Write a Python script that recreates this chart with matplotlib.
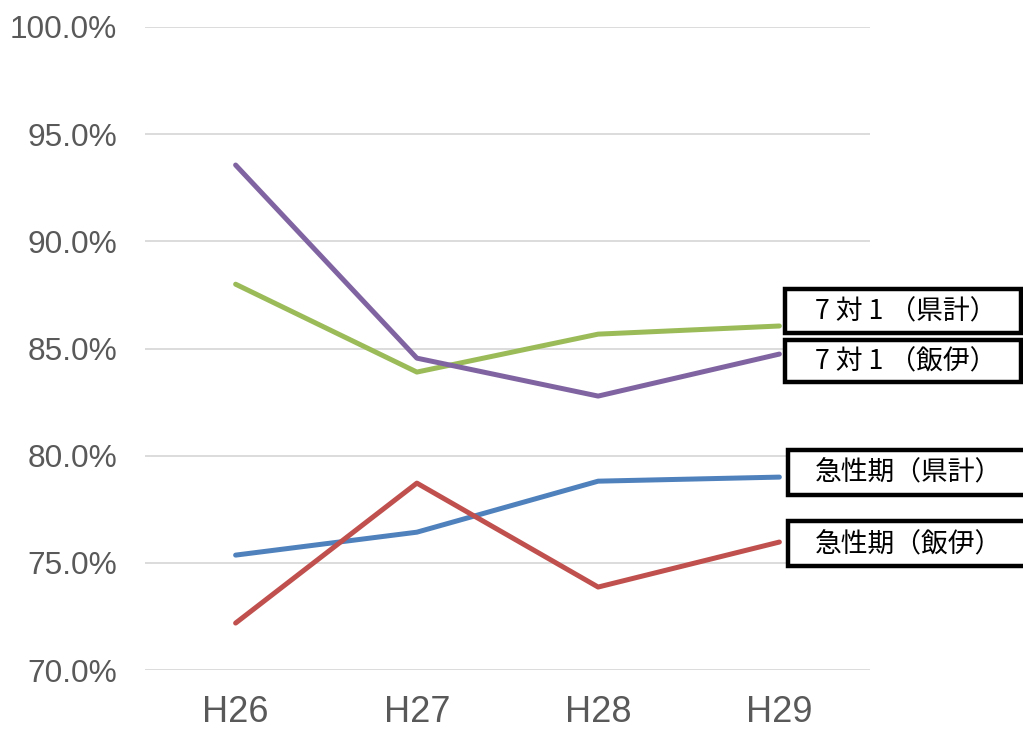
import matplotlib
matplotlib.use("Agg")
import matplotlib.pyplot as plt
from matplotlib.patches import Rectangle
from matplotlib.ticker import FuncFormatter

years = ["H26", "H27", "H28", "H29"]
s71_pref = [88.0, 83.9, 85.67, 86.05]
s71_iida = [93.56, 84.55, 82.78, 84.74]
acute_pref = [75.36, 76.43, 78.81, 79.0]
acute_iida = [72.19, 78.72, 73.87, 75.97]

series = [
    ("7 対 1 （県計）", s71_pref, "#9BBB59"),
    ("7 対 1 （飯伊）", s71_iida, "#8064A2"),
    ("急性期（県計）", acute_pref, "#4F81BD"),
    ("急性期（飯伊）", acute_iida, "#C0504D"),
]

plt.rcParams['font.family'] = ['Liberation Sans', 'Noto Sans CJK JP', 'DejaVu Sans']

W, H = 1023, 729
fig = plt.figure(figsize=(W / 100, H / 100), dpi=100)
ax = fig.add_axes([145 / W, 1 - 670 / H, (870 - 145) / W, (670 - 27) / H])

x = list(range(len(years)))
for name, vals, col in series:
    ax.plot(x, vals, color=col, lw=3.6, solid_capstyle='round', zorder=3)

ax.set_xlim(-0.5, len(years) - 0.5)
ax.set_ylim(70, 100)
ax.set_yticks([70, 75, 80, 85, 90, 95, 100])
ax.yaxis.set_major_formatter(FuncFormatter(lambda v, p: f"{v:.1f}%"))
ax.set_xticks(x)
ax.set_xticklabels(years)
ax.grid(axis='y', color='#D9D9D9', lw=1.3, zorder=0)
for s in ax.spines.values():
    s.set_visible(False)
ax.tick_params(axis='both', length=0, labelcolor='#595959')
ax.tick_params(axis='y', pad=20, labelsize=22.8)
ax.tick_params(axis='x', pad=18, labelsize=26)

# label boxes (figure pixel coords: x0, y_top, x1, y_bottom, text center y)
boxes = [
    (785, 289, 1021, 333, 312),
    (785, 340, 1021, 382, 362),
    (788, 450, 1030, 495, 473),
    (788, 521, 1030, 566, 545),
]
for (name, vals, col), (x0, yt, x1, yb, yc) in zip(series, boxes):
    r = Rectangle((x0 / W, 1 - yb / H), (x1 - x0) / W, (yb - yt) / H,
                  transform=fig.transFigure, facecolor='white',
                  edgecolor='black', lw=3.2, zorder=5)
    fig.add_artist(r)
    fig.text(815 / W, 1 - yc / H, name, ha='left', va='center',
             fontsize=19.3, color='black', zorder=6,
             family=['Noto Sans CJK JP', 'DejaVu Sans'])

fig.savefig("out.png", dpi=100)
